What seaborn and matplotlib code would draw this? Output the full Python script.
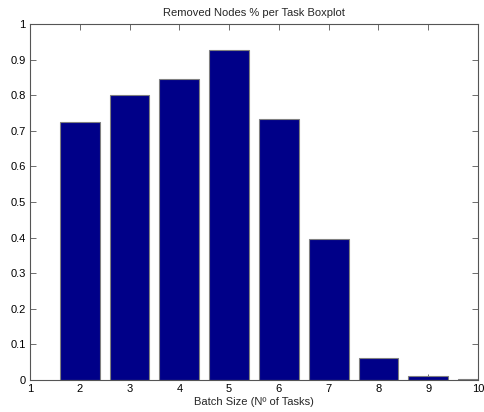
import matplotlib
matplotlib.use("Agg")
import matplotlib.pyplot as plt
import seaborn as sns
import pandas as pd

batch_sizes = [2, 3, 4, 5, 6, 7, 8, 9, 10]
removed_pct = [0.725, 0.800, 0.845, 0.926, 0.733, 0.396, 0.061, 0.012, 0.002]

sns.set_style("white")
plt.rcParams['font.family'] = ['Liberation Sans', 'DejaVu Sans']

df = pd.DataFrame({"batch": batch_sizes, "pct": removed_pct})

fig = plt.figure(figsize=(4.85, 4.12), dpi=100)
ax = fig.add_axes([30/485, (412-380)/412, 448/485, 356/412])
sns.barplot(data=df, x="batch", y="pct", native_scale=True, width=0.8,
            color="#000088", saturation=1, edgecolor="#808080", linewidth=0.8, ax=ax)
for p in ax.patches:
    p.set_facecolor("#000088")

ax.set_xlim(1, 10)
ax.set_ylim(0, 1)
ax.set_xticks(range(1, 11))
ax.set_xticklabels([str(i) for i in range(1, 11)])
ax.set_yticks([i/10 for i in range(11)])
ax.set_yticklabels(["0", "0.1", "0.2", "0.3", "0.4", "0.5", "0.6", "0.7", "0.8", "0.9", "1"])
ax.tick_params(direction="in", length=4, width=0.6, colors="#555555", labelcolor="black",
               labelsize=8, top=True, right=True, bottom=True, left=True, pad=3)
for s in ax.spines.values():
    s.set_visible(True)
    s.set_color("#555555")
    s.set_linewidth(0.8)
ax.set_xlabel("Batch Size (Nº of Tasks)", fontsize=8, labelpad=2)
ax.set_ylabel("")
ax.set_title("Removed Nodes % per Task Boxplot", fontsize=8, pad=6)
fig.savefig("out.png", dpi=100)
